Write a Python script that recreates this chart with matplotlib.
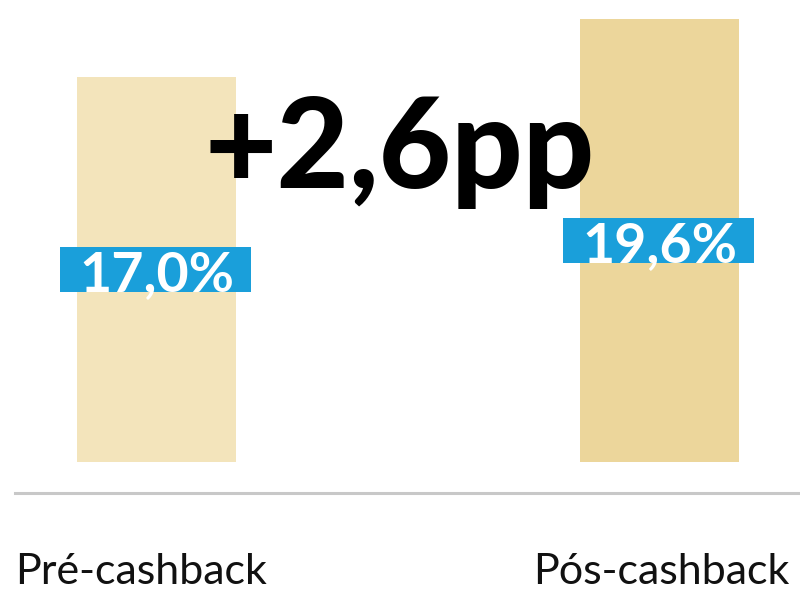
import matplotlib.pyplot as plt
from matplotlib.patches import Rectangle

plt.rcParams['font.family'] = ['Lato', 'DejaVu Sans']

categories = ["Pré-cashback", "Pós-cashback"]
values = [17.0, 19.6]
value_labels = ["17,0%", "19,6%"]
delta_label = "+2,6pp"

bar_colors = ["#f3e4bb", "#ecd69b"]
box_color = "#1a9fda"

fig = plt.figure(figsize=(8, 5.91), dpi=100)
W, H = 800, 591
ax = fig.add_axes([15 / W, (H - 492.5) / H, 785 / W, 492.5 / H])

x = list(range(len(categories)))
ax.bar(x, values, width=0.316, color=bar_colors, zorder=1)
ax.set_xlim(-0.2813, 1.2793)
ax.set_ylim(-1.33, 20.42)

for s in ["top", "left", "right"]:
    ax.spines[s].set_visible(False)
ax.spines["bottom"].set_color("#c8c8c8")
ax.spines["bottom"].set_linewidth(2.2)
ax.set_xticks([])
ax.set_yticks([])

# category labels under the axis line
ax.annotate(categories[0], xy=(0, 0), xycoords="axes fraction", xytext=(0, -66),
            textcoords="offset points", ha="left", va="baseline",
            fontsize=31, color="#111111")
ax.annotate(categories[1], xy=(0.986, 0), xycoords="axes fraction", xytext=(0, -66),
            textcoords="offset points", ha="right", va="baseline",
            fontsize=31, color="#111111")

# value labels in blue boxes at half bar height
texts = []
for i, v in enumerate(values):
    t = ax.annotate(value_labels[i], xy=(i, v / 2), xytext=(0, -15.5),
                    textcoords="offset points", ha="center", va="baseline",
                    fontsize=40, fontweight="bold", color="white", zorder=4)
    texts.append(t)

fig.canvas.draw()
r = fig.canvas.get_renderer()
inv = ax.transData.inverted()
for i, (t, v) in enumerate(zip(texts, values)):
    bb = t.get_window_extent(r)
    cx, cy = ax.transData.transform((i, v / 2))
    (x0, y0) = inv.transform((bb.x0 - 19, cy - 22.5))
    (x1, y1) = inv.transform((bb.x1 + 17, cy + 22.5))
    ax.add_patch(Rectangle((x0, y0), x1 - x0, y1 - y0, color=box_color, zorder=3, lw=0))

# big difference label
fig.text(0.5, (H - 188) / H, delta_label, ha="center", va="baseline",
         fontsize=90, fontweight="black", color="black", zorder=5)

plt.savefig("out.png", dpi=100)
